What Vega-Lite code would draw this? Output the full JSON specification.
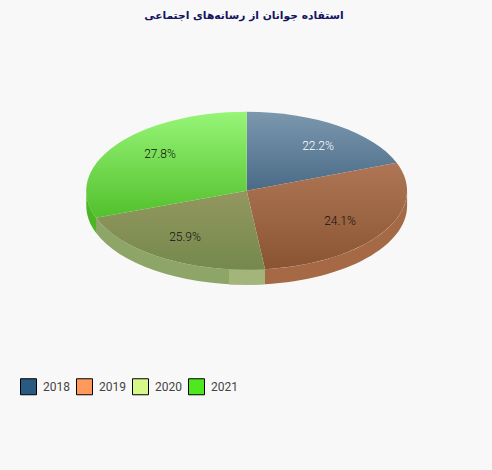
{
  "$schema": "https://vega.github.io/schema/vega-lite/v6.json",
  "width": 492,
  "height": 470,
  "padding": 0,
  "autosize": {"type": "none"},
  "background": "#f8f8f8",
  "title": {
    "text": "استفاده جوانان از رسانه‌های  اجتماعی",
    "font": "DejaVu Sans",
    "fontSize": 10.7,
    "fontWeight": "bold",
    "color": "#14145f",
    "anchor": "middle",
    "frame": "group",
    "baseline": "middle",
    "offset": -12,
    "dy": 15,
    "dx": -2
  },
  "config": {"view": {"stroke": null}},
  "data": {
    "values": [
      {"year": "2018", "share": 0.222},
      {"year": "2019", "share": 0.241},
      {"year": "2020", "share": 0.259},
      {"year": "2021", "share": 0.278}
    ]
  },
  "resolve": {"scale": {"shape": "independent"}},
  "layer": [
    {
      "mark": {"type": "point", "filled": true, "size": 0, "opacity": 0},
      "encoding": {
        "color": {
          "field": "year",
          "type": "nominal",
          "scale": {
            "domain": ["2018", "2019", "2020", "2021"],
            "range": ["#2a5a80", "#ff9a5c", "#d6f78a", "#4fe81e"]
          },
          "legend": {
            "title": null,
            "orient": "none",
            "legendX": 20,
            "legendY": 378,
            "direction": "horizontal",
            "columns": 4,
            "symbolType": "square",
            "symbolSize": 256,
            "symbolOpacity": 1,
            "symbolStrokeColor": "#000000",
            "symbolStrokeWidth": 1,
            "labelFont": "Roboto",
            "labelFontSize": 12,
            "labelColor": "#444444",
            "labelOffset": 6,
            "columnPadding": 4
          }
        }
      }
    },
    {
      "mark": {"type": "point", "filled": true, "size": 4, "opacity": 1},
      "encoding": {
        "shape": {
          "field": "year",
          "type": "nominal",
          "legend": null,
          "scale": {
            "domain": ["2018", "2019", "2020", "2021"],
            "range": [
              "M0,0",
              "M161.1,-44.3 A160.4,79 0 0 1 19,34.2 L19,49.2 A160.4,79 0 0 0 161.1,-29.3 Z",
              "M19,34.2 A160.4,79 0 0 1 -150,-17.2 L-150,-2.2 A160.4,79 0 0 0 19,49.2 Z",
              "M-150,-17.2 A160.4,79 0 0 1 -159.7,-44.3 L-159.7,-29.3 A160.4,79 0 0 0 -150,-2.2 Z"
            ]
          }
        },
        "fill": {
          "field": "year",
          "type": "nominal",
          "legend": null,
          "scale": {
            "name": "wall",
            "domain": ["2018", "2019", "2020", "2021"],
            "range": ["#4a6a87", "#a56a45", "#8ea568", "#4cb524"]
          }
        }
      }
    },
    {
      "transform": [{"filter": "datum.year == '2020'"}],
      "mark": {
        "type": "point",
        "filled": true,
        "size": 4,
        "opacity": 1,
        "fill": "#a3b57a",
        "shape": "M-17,34.6 L19,34.2 L19,49.2 L-17,49.6 Z"
      },
      "encoding": {}
    },
    {
      "mark": {"type": "point", "filled": true, "size": 4, "opacity": 1},
      "encoding": {
        "shape": {
          "field": "year",
          "type": "nominal",
          "legend": null,
          "scale": {
            "domain": ["2018", "2019", "2020", "2021"],
            "range": [
              "M0.7,-44.3 L0.7,-123.3 A160.4,79 0 0 1 150.7,-72.2 Z",
              "M0.7,-44.3 L150.7,-72.2 A160.4,79 0 0 1 19,34.2 Z",
              "M0.7,-44.3 L19,34.2 A160.4,79 0 0 1 -150,-17.2 Z",
              "M0.7,-44.3 L-150,-17.2 A160.4,79 0 0 1 0.7,-123.3 Z"
            ]
          }
        },
        "fill": {
          "condition": [
            {"test": "datum.year == '2018'", "value": {"gradient": "linear", "x1": 0, "y1": 0, "x2": 0, "y2": 1, "stops": [{"offset": 0, "color": "#7b98ae"}, {"offset": 1, "color": "#4a6a87"}]}},
            {"test": "datum.year == '2019'", "value": {"gradient": "linear", "x1": 0, "y1": 0, "x2": 0, "y2": 1, "stops": [{"offset": 0, "color": "#ae7655"}, {"offset": 1, "color": "#8a5433"}]}},
            {"test": "datum.year == '2020'", "value": {"gradient": "linear", "x1": 0, "y1": 0, "x2": 0, "y2": 1, "stops": [{"offset": 0, "color": "#93975f"}, {"offset": 1, "color": "#75894d"}]}}
          ],
          "value": {"gradient": "linear", "x1": 0, "y1": 0, "x2": 0, "y2": 1, "stops": [{"offset": 0, "color": "#97f577"}, {"offset": 1, "color": "#52c02c"}]}
        }
      }
    },
    {
      "mark": {"type": "text", "font": "Roboto", "fontSize": 12, "fontWeight": 300, "align": "center", "baseline": "middle"},
      "encoding": {
        "x": {
          "field": "share",
          "type": "quantitative",
          "axis": null,
          "scale": {"domain": [0.222, 0.241, 0.259, 0.278], "range": [318, 340, 185, 160], "zero": false, "nice": false}
        },
        "y": {
          "field": "share",
          "type": "quantitative",
          "axis": null,
          "scale": {"domain": [0.222, 0.241, 0.259, 0.278], "range": [146, 221, 237, 154], "zero": false, "nice": false}
        },
        "text": {"field": "share", "type": "quantitative", "format": ".1%"},
        "color": {
          "condition": {"test": "datum.year == '2018'", "value": "#ffffff"},
          "value": "#111111"
        }
      }
    }
  ]
}
